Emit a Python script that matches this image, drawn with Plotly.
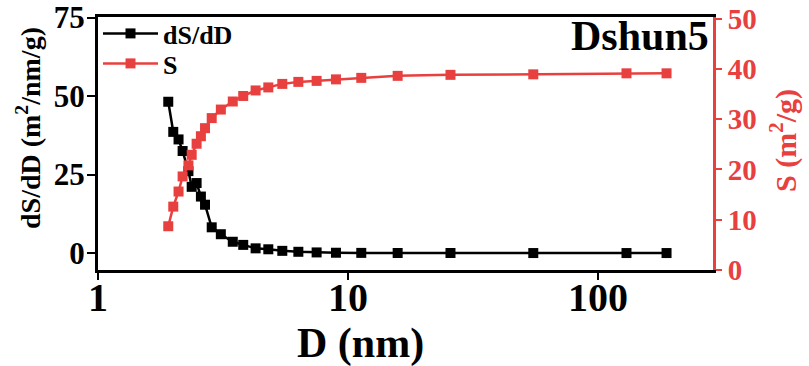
import plotly.graph_objects as go

# Pore diameter (nm)
D = [1.91, 2.00, 2.10, 2.18, 2.30, 2.37, 2.48, 2.58, 2.68, 2.85, 3.10, 3.46, 3.81,
     4.27, 4.80, 5.46, 6.33, 7.49, 8.95, 11.3, 15.8, 25.7, 55.1, 130, 188]
# dS/dD (m2/nm/g)
dSdD = [48.2, 38.6, 36.2, 32.5, 26.1, 21.1, 22.3, 18.0, 15.4, 8.2, 6.0, 3.6, 2.6,
        1.5, 1.2, 0.7, 0.4, 0.2, 0.1, 0.05, 0.02, 0.01, 0.0, 0.0, 0.0]
# Cumulative S (m2/g)
S = [8.7, 12.6, 15.6, 18.6, 20.8, 22.9, 25.1, 26.6, 28.2, 30.2, 31.9, 33.5, 34.6,
     35.7, 36.3, 37.0, 37.4, 37.6, 37.9, 38.2, 38.6, 38.8, 38.9, 39.1, 39.1]

x_ticks = [1, 10, 100]
y_ticks = [0, 25, 50, 75]
y2_ticks = [0, 10, 20, 30, 40, 50]

RED = "#E8403F"
FONT = "Liberation Serif, Times New Roman, serif"

fig = go.Figure()
fig.add_trace(go.Scatter(
    x=D, y=dSdD, name="dS/dD", mode="lines+markers",
    line=dict(color="black", width=2.5),
    marker=dict(symbol="square", size=10, color="black"),
    yaxis="y", legend="legend"))
fig.add_trace(go.Scatter(
    x=D, y=S, name="S", mode="lines+markers",
    line=dict(color=RED, width=2.5),
    marker=dict(symbol="square", size=10, color=RED),
    yaxis="y2", legend="legend2"))

leg_common = dict(x=0.0, xanchor="left", yanchor="top",
                  bgcolor="rgba(0,0,0,0)", font=dict(size=26, family=FONT, weight="bold"),
                  tracegroupgap=0, itemwidth=55)

fig.update_layout(
    width=809, height=366,
    margin=dict(l=98, r=96, t=17, b=96, autoexpand=False),
    paper_bgcolor="white", plot_bgcolor="white",
    font=dict(family=FONT, weight="bold", color="black"),
    showlegend=True,
    legend=dict(y=1 + 7 / 253, **leg_common),
    legend2=dict(y=1 - 23 / 253, **leg_common),
    xaxis=dict(type="log", range=[0, 2.46], tickvals=x_ticks,
               ticktext=[str(v) for v in x_ticks], automargin=False,
               showline=True, linecolor="black", linewidth=3, mirror=True,
               ticks="outside", ticklen=7, tickwidth=2, tickcolor="black",
               showgrid=False, zeroline=False, ticklabelstandoff=-17,
               tickfont=dict(size=40, family=FONT, weight="bold")),
    yaxis=dict(range=[-5.4, 75.2], tickvals=y_ticks, automargin=False,
               showline=True, linecolor="black", linewidth=3,
               ticks="outside", ticklen=8, tickwidth=2, tickcolor="black",
               showgrid=False, zeroline=False, ticklabelstandoff=-4,
               tickfont=dict(size=31, family=FONT, weight="bold")),
    yaxis2=dict(range=[0, 50.3], tickvals=y2_ticks, overlaying="y", side="right",
                automargin=False,
                showline=True, linecolor=RED, linewidth=3,
                ticks="outside", ticklen=6, tickwidth=2, tickcolor=RED,
                showgrid=False, zeroline=False,
                tickfont=dict(size=29, family=FONT, weight="bold", color=RED)),
)

fig.add_annotation(text="D (nm)", xref="paper", yref="paper",
                   x=(360 - 98) / 615, y=-(343 - 270) / 253,
                   xanchor="center", yanchor="middle", showarrow=False,
                   font=dict(size=42, family=FONT, weight="bold", color="black"))
fig.add_annotation(text="dS/dD (m<sup>2</sup>/nm/g)", xref="paper", yref="paper",
                   x=-(98 - 28) / 615, y=(270 - 128) / 253, textangle=-90,
                   xanchor="center", yanchor="middle", showarrow=False,
                   font=dict(size=28, family=FONT, weight="bold", color="black"))
fig.add_annotation(text="S (m<sup>2</sup>/g)", xref="paper", yref="paper",
                   x=1 + (783 - 713) / 615, y=(270 - 141) / 253, textangle=-90,
                   xanchor="center", yanchor="middle", showarrow=False,
                   font=dict(size=30, family=FONT, weight="bold", color=RED))
fig.add_annotation(text="Dshun5", xref="paper", yref="paper",
                   x=(711 - 98) / 615, y=1 + 6 / 253,
                   xanchor="right", yanchor="top", showarrow=False,
                   font=dict(size=42, family=FONT, weight="bold", color="black"))

fig.write_html("out.html", config={"displayModeBar": False},
               post_script="document.body.style.margin='0';document.body.style.overflow='hidden';")
